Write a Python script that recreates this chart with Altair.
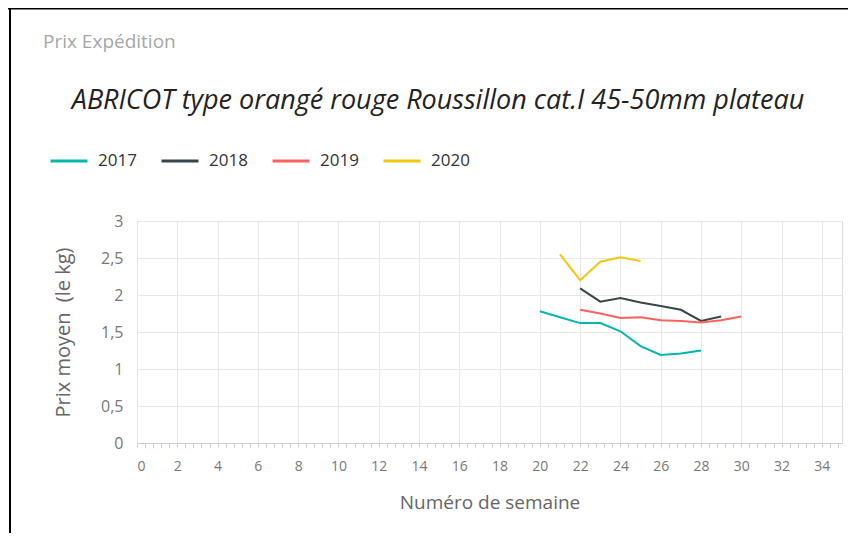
import altair as alt
import pandas as pd

years = ["2017", "2018", "2019", "2020"]
colors = ["#01B8AA", "#374649", "#FD625E", "#F2C80F"]

weeks_2017 = [20, 21, 22, 23, 24, 25, 26, 27, 28]
price_2017 = [1.78, 1.70, 1.62, 1.62, 1.51, 1.31, 1.19, 1.21, 1.25]
weeks_2018 = [22, 23, 24, 25, 26, 27, 28, 29]
price_2018 = [2.09, 1.91, 1.96, 1.90, 1.85, 1.80, 1.65, 1.71]
weeks_2019 = [22, 23, 24, 25, 26, 27, 28, 29, 30]
price_2019 = [1.80, 1.75, 1.69, 1.70, 1.66, 1.65, 1.63, 1.66, 1.71]
weeks_2020 = [21, 22, 23, 24, 25]
price_2020 = [2.55, 2.20, 2.45, 2.51, 2.46]

x_ticks = [round(i * 0.4, 1) for i in range(0, 88)]
y_ticks = [0, 0.5, 1, 1.5, 2, 2.5, 3]

title_text = "ABRICOT type orangé rouge Roussillon cat.I 45-50mm plateau"
header_text = "Prix Expédition"

rows = []
for yr, wk, pr in [("2017", weeks_2017, price_2017), ("2018", weeks_2018, price_2018),
                   ("2019", weeks_2019, price_2019), ("2020", weeks_2020, price_2020)]:
    for w, p in zip(wk, pr):
        rows.append({"semaine": w, "prix": p, "annee": yr})
df = pd.DataFrame(rows)

FONT = "Open Sans"

lines = alt.Chart(df).mark_line(strokeWidth=2).encode(
    x=alt.X("semaine:Q", scale=alt.Scale(domain=[0, 35], nice=False, zero=False),
            axis=alt.Axis(values=x_ticks, title="Numéro de semaine",
                          labelExpr="datum.value % 2 == 0 ? format(datum.value, 'd') : ''",
                          labelOverlap=False, labelFontSize=14, labelColor="#777777",
                          labelPadding=12, labelFont=FONT,
                          grid=True, gridColor="#e6e6e6",
                          gridOpacity={"condition": {"test": "datum.value % 2 == 0", "value": 1}, "value": 0},
                          ticks=True, tickSize=4, tickColor="#cccccc",
                          domain=True, domainColor="#cccccc",
                          titleFontSize=19, titleColor="#666666", titleFontWeight="normal",
                          titlePadding=20, titleFont=FONT)),
    y=alt.Y("prix:Q", scale=alt.Scale(domain=[0, 3], nice=False),
            axis=alt.Axis(values=y_ticks, title="Prix moyen\u00a0 (le kg)",
                          labelExpr="replace(format(datum.value, ''), '.', ',')",
                          labelFontSize=16, labelColor="#777777", labelPadding=14, labelFont=FONT,
                          grid=True, gridColor="#e6e6e6", ticks=False, domain=False,
                          titleFontSize=20, titleColor="#666666", titleFontWeight="normal",
                          titlePadding=27, titleFont=FONT)),
    color=alt.Color("annee:N", scale=alt.Scale(domain=years, range=colors),
                    legend=alt.Legend(title=None, orient="none", direction="horizontal",
                                      legendX=-88, legendY=-80, symbolType="stroke",
                                      symbolSize=1369, symbolStrokeWidth=3,
                                      labelFontSize=17, labelColor="#333333", labelFont=FONT,
                                      labelOffset=9, columnPadding=18, padding=0)),
)

one = pd.DataFrame({"a": [0]})
header = alt.Chart(one).mark_text(text=header_text, align="left", baseline="alphabetic",
                                  fontSize=19, color="#a6a6a6", font=FONT).encode(
    x=alt.value(-94), y=alt.value(-173))
title = alt.Chart(one).mark_text(text=title_text, align="center", baseline="alphabetic",
                                 fontSize=27, fontStyle="italic", color="#222222", font=FONT).encode(
    x=alt.value(301), y=alt.value(-112))
top_border = alt.Chart(one).mark_rule(color="black", strokeWidth=2).encode(
    x=alt.value(-130), x2=alt.value(720), y=alt.value(-212.5))
left_border = alt.Chart(one).mark_rule(color="black", strokeWidth=2).encode(
    x=alt.value(-127), y=alt.value(-213), y2=alt.value(330))

chart = alt.layer(lines, header, title, top_border, left_border).properties(
    width=705, height=222,
    padding={"left": 129, "top": 213, "right": 6, "bottom": 90},
    autosize=alt.AutoSizeParams(type="none"),
).configure_view(stroke=None).configure(background="white")

chart.save("out.html", embed_options={"renderer": "svg", "actions": False})
